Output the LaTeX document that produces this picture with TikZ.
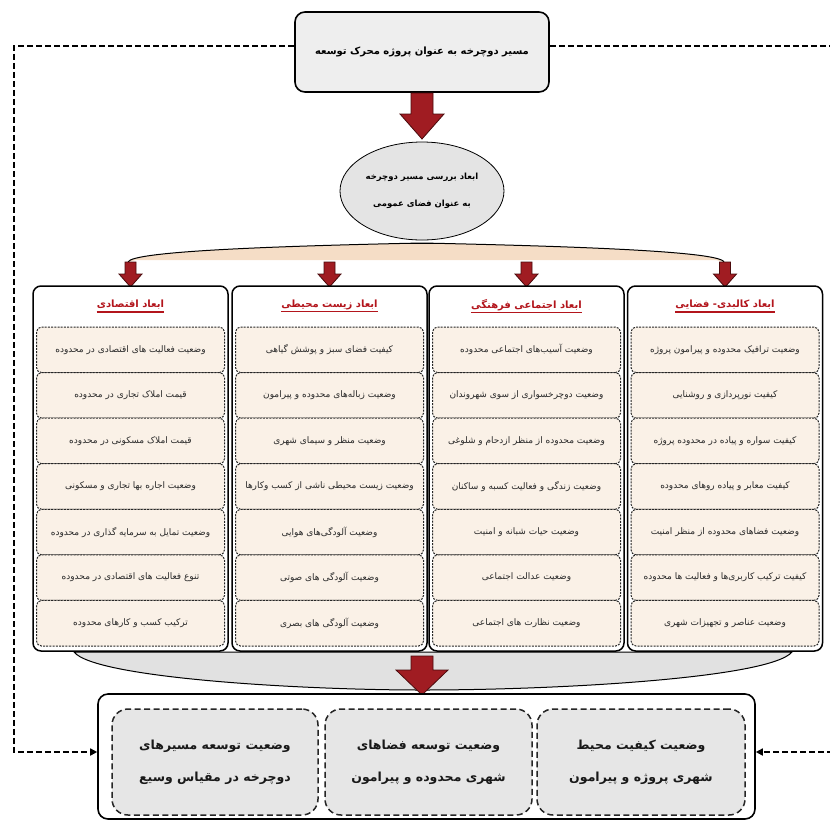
\documentclass[tikz,border=0pt]{standalone}
\usepackage{fontspec}
\usetikzlibrary{arrows.meta,shapes.geometric}
\TeXXeTstate=1
\newfontfamily\fa[Script=Arabic]{DejaVu Sans}
\definecolor{boxgray}{HTML}{EEEEEE}
\definecolor{ellgray}{HTML}{E4E4E4}
\definecolor{cream}{HTML}{FAF1E7}
\definecolor{peach}{HTML}{F5DDC6}
\definecolor{lensgray}{HTML}{E1E1E1}
\definecolor{darkred}{HTML}{A01C22}
\definecolor{arrowedge}{HTML}{4A0A0C}
\definecolor{titlered}{HTML}{B3151C}
\definecolor{itemtext}{HTML}{2A2A2A}
\definecolor{outgray}{HTML}{E6E6E6}

% block arrow pointing down: x, y of tail, y of tip, half shaft, half head, head length
\newcommand\fatarrow[6]{%
  \filldraw[fill=darkred, draw=arrowedge, line width=0.8pt, line join=miter]
    (#1-#4,#2) -- (#1+#4,#2) -- (#1+#4,#3-#6) -- (#1+#5,#3-#6) -- (#1,#3)
    -- (#1-#5,#3-#6) -- (#1-#4,#3-#6) -- cycle;}

\begin{document}
\begin{tikzpicture}[x=1pt,y=-1pt,
  topbox/.style={draw, line width=1.6pt, rounded corners=10pt, fill=boxgray,
    minimum width=254pt, minimum height=80pt, inner sep=0pt,
    font=\fa\bfseries\fontsize{10}{12}\selectfont},
  ellbox/.style={ellipse, draw, line width=0.8pt, fill=ellgray,
    minimum width=164pt, minimum height=98pt, inner sep=0pt, align=center,
    font=\fa\bfseries\fontsize{8.5}{27}\selectfont},
  colbox/.style={draw, line width=1.5pt, rounded corners=8pt, fill=white,
    minimum width=195pt, minimum height=365pt, inner sep=0pt},
  coltitle/.style={text=titlered, inner xsep=0pt, inner ysep=1pt,
    font=\fa\bfseries\fontsize{10}{12}\selectfont},
  titleline/.style={titlered, line width=1.4pt},
  itembox/.style={draw=black!85, dash pattern=on 2pt off 1.2pt, line width=1pt,
    rounded corners=5pt, fill=cream, minimum width=188pt, minimum height=45.57pt,
    inner sep=0pt, text=itemtext, font=\fa\fontsize{9}{11}\selectfont},
  outbox/.style={draw, line width=1.6pt, rounded corners=10pt, fill=white,
    minimum width=657pt, minimum height=125pt, inner sep=0pt},
  resultbox/.style={draw=black!85, dash pattern=on 6pt off 3.5pt, line width=1.5pt,
    rounded corners=16pt, fill=outgray, minimum width=206pt, minimum height=106pt,
    inner sep=0pt, align=center, text=black!90,
    font=\fa\bfseries\fontsize{12.5}{32}\selectfont},
  feedback/.style={line width=1.6pt, dash pattern=on 6pt off 3pt,
    -{Triangle[length=7pt,width=7pt]}}
]
\useasboundingbox (0,0) rectangle (830,823);

% ---------- head of the chart ----------
\node[topbox] (top) at (422,52) {\beginR مسیر دوچرخه به عنوان پروژه محرک توسعه\endR};
\fatarrow{422}{93}{139}{11}{22}{25}
\node[ellbox] (ell) at (422,191)
  {\beginR ابعاد بررسی مسیر دوچرخه\endR\\\beginR به عنوان فضای عمومی\endR};

% ---------- brace spreading to the four dimensions ----------
\fill[peach] (128,262) .. controls (132,251) and (280,246) .. (422,243)
  .. controls (564,246) and (720,251) .. (724,262) -- (716,260) -- (136,260) -- cycle;
\draw[line width=1pt] (128,262) .. controls (132,251) and (280,246) .. (422,243)
  .. controls (564,246) and (720,251) .. (724,262);
\draw[line width=1.6pt] (400,243.5) -- (444,243.5);

\foreach \cx in {130.5,329.5,526.5,725}{\fatarrow{\cx}{262}{287}{5.5}{11.5}{13}}

% ---------- lens gathering the dimensions ----------
\filldraw[fill=lensgray, draw=black, line width=1pt] (74,652)
  .. controls (95,678) and (300,690) .. (422,690)
  .. controls (560,690) and (770,678) .. (792,652) -- cycle;

% ---------- the four dimension columns ----------
\node[colbox] (col1) at (130.5,468.5) {};
\node[colbox] (col2) at (329.5,468.5) {};
\node[colbox] (col3) at (526.5,468.5) {};
\node[colbox] (col4) at (725,468.5) {};

\node[coltitle] (t1) at (130.5,305) {\beginR ابعاد اقتصادی\endR};
\node[coltitle] (t2) at (329.5,305) {\beginR ابعاد زیست محیطی\endR};
\node[coltitle] (t3) at (526.5,305) {\beginR ابعاد اجتماعی فرهنگی\endR};
\node[coltitle] (t4) at (725,305) {\beginR ابعاد کالبدی- فضایی\endR};
\foreach \t in {t1,t2,t3,t4}
  \draw[titleline] ([yshift=-4pt]\t.base west) -- ([yshift=-4pt]\t.base east);

\foreach \txt [count=\i] in {
  وضعیت فعالیت های اقتصادی در محدوده,
  قیمت املاک تجاری در محدوده,
  قیمت املاک مسکونی در محدوده,
  وضعیت اجاره بها تجاری و مسکونی,
  وضعیت تمایل به سرمایه گذاری در محدوده,
  تنوع فعالیت های اقتصادی در محدوده,
  ترکیب کسب و کارهای محدوده}
  \node[itembox] (a\i) at (130.5,{349.8+45.57*(\i-1)}) {\beginR\txt\endR};

\foreach \txt [count=\i] in {
  کیفیت فضای سبز و پوشش گیاهی,
  وضعیت زباله‌های محدوده و پیرامون,
  وضعیت منظر و سیمای شهری,
  وضعیت زیست محیطی ناشی از کسب وکارها,
  وضعیت آلودگی‌های هوایی,
  وضعیت آلودگی های صوتی,
  وضعیت آلودگی های بصری}
  \node[itembox] (b\i) at (329.5,{349.8+45.57*(\i-1)}) {\beginR\txt\endR};

\foreach \txt [count=\i] in {
  وضعیت آسیب‌های اجتماعی محدوده,
  وضعیت دوچرخسواری از سوی شهروندان,
  وضعیت محدوده از منظر ازدحام و شلوغی,
  وضعیت زندگی و فعالیت کسبه و ساکنان,
  وضعیت حیات شبانه و امنیت,
  وضعیت عدالت اجتماعی,
  وضعیت نظارت های اجتماعی}
  \node[itembox] (c\i) at (526.5,{349.8+45.57*(\i-1)}) {\beginR\txt\endR};

\foreach \txt [count=\i] in {
  وضعیت ترافیک محدوده و پیرامون پروژه,
  کیفیت نورپردازی و روشنایی,
  کیفیت سواره و پیاده در محدوده پروژه,
  کیفیت معابر و پیاده روهای محدوده,
  وضعیت فضاهای محدوده از منظر امنیت,
  کیفیت ترکیب کاربری‌ها و فعالیت ها محدوده,
  وضعیت عناصر و تجهیزات شهری}
  \node[itembox] (d\i) at (725,{349.8+45.57*(\i-1)}) {\beginR\txt\endR};

% ---------- outcomes ----------
\fatarrow{422}{656}{695}{11}{26}{25}
\node[outbox] (out) at (426.5,756.5) {};
\node[resultbox] (r1) at (215,762)
  {\beginR وضعیت توسعه مسیرهای\endR\\\beginR دوچرخه در مقیاس وسیع\endR};
\node[resultbox, minimum width=207pt] (r2) at (428.5,762)
  {\beginR وضعیت توسعه فضاهای\endR\\\beginR شهری محدوده و پیرامون\endR};
\node[resultbox, minimum width=208pt] (r3) at (641,762)
  {\beginR وضعیت کیفیت محیط\endR\\\beginR شهری پروژه و پیرامون\endR};

% ---------- feedback loops ----------
\coordinate (lc) at (14,46);
\coordinate (rc) at (838,46);
\draw[feedback] ([yshift=6pt]top.west) -- (lc) |- ([yshift=4.5pt]out.west);
\draw[feedback] ([yshift=6pt]top.east) -- (rc) |- ([yshift=4.5pt]out.east);
\end{tikzpicture}
\end{document}
